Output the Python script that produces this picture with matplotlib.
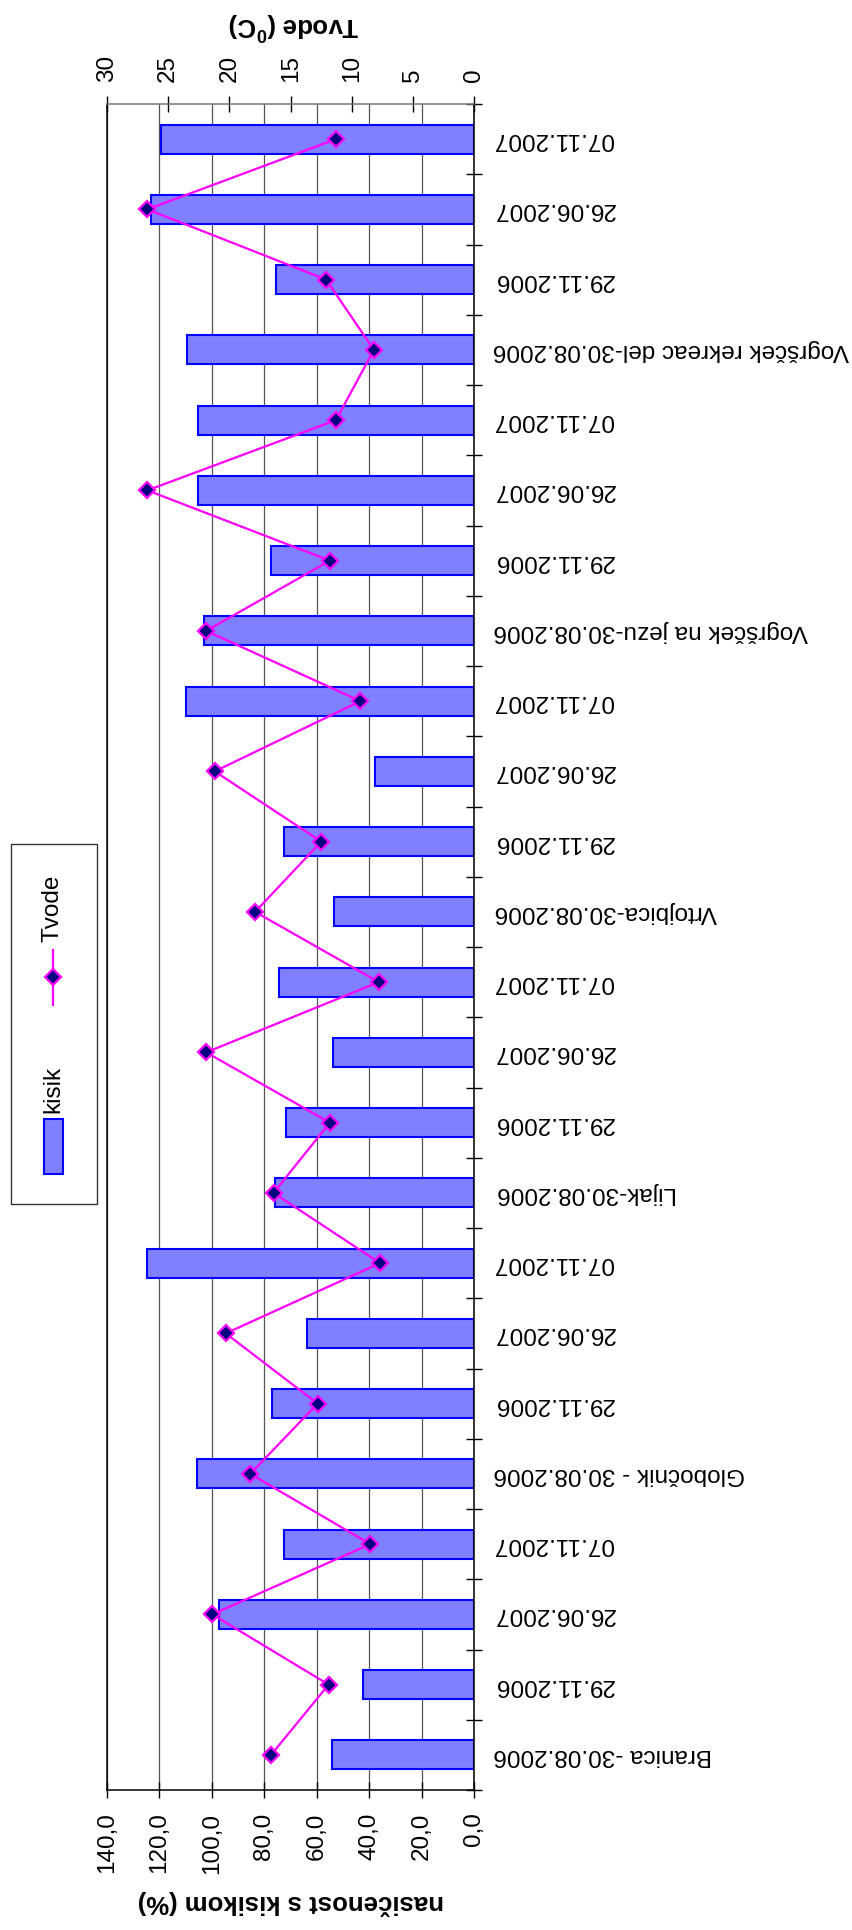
import matplotlib
matplotlib.use('Agg')
import matplotlib.pyplot as plt
import numpy as np
from matplotlib.patches import Rectangle
from matplotlib.lines import Line2D

plt.rcParams['font.family'] = ['Liberation Sans', 'DejaVu Sans']
plt.rcParams['mathtext.default'] = 'regular'

# merilna mesta in datumi vzorčenja (od spodaj navzgor)
kategorije = [
    'Branica -30.08.2006', '29.11.2006', '26.06.2007', '07.11.2007',
    'Globočnik - 30.08.2006', '29.11.2006', '26.06.2007', '07.11.2007',
    'Lijak-30.08.2006', '29.11.2006', '26.06.2007', '07.11.2007',
    'Vrtojbica-30.08.2006', '29.11.2006', '26.06.2007', '07.11.2007',
    'Vogršček na jezu-30.08.2006', '29.11.2006', '26.06.2007', '07.11.2007',
    'Vogršček rekreac del-30.08.2006', '29.11.2006', '26.06.2007', '07.11.2007',
]
kisik = [54.2, 42.6, 97.5, 72.7, 105.6, 77.2, 63.8, 124.6,
         75.9, 71.8, 53.8, 74.5, 53.3, 72.7, 37.8, 109.8,
         103.2, 77.3, 105.5, 105.3, 109.4, 75.5, 123.2, 119.6]
tvode = [16.6, 11.9, 21.4, 8.5, 18.3, 12.8, 20.3, 7.7,
         16.4, 11.8, 21.9, 7.8, 17.9, 12.5, 21.2, 9.3,
         21.9, 11.8, 26.7, 11.3, 8.2, 12.1, 26.7, 11.3]
kisik_ticks = [0, 20, 40, 60, 80, 100, 120, 140]
tvode_ticks = [0, 5, 10, 15, 20, 25, 30]

W, H = 853, 1930


def fx(px):
    return px / W


def fy(py):
    return 1 - py / H


fig = plt.figure(figsize=(W / 100, H / 100), dpi=100)
ax = fig.add_axes([fx(107), fy(1790), fx(474.3) - fx(107), fy(104) - fy(1790)])

y = np.arange(len(kategorije))
ax.barh(y, kisik, height=0.41, color='#8080FF', edgecolor='#0000FF',
        linewidth=1.5, zorder=2)
ax.set_xlim(140, 0)
ax.set_ylim(-0.5, len(kategorije) - 0.5)

ax.set_xticks(kisik_ticks)
ax.set_xticklabels([f'{v:.1f}'.replace('.', ',') for v in kisik_ticks],
                   rotation=90, fontsize=17.5)
ax.tick_params(axis='x', direction='inout', length=11.5, width=1, pad=10.5)
ax.grid(axis='x', color='#555555', linewidth=0.9)
ax.set_axisbelow(True)

# kategorije na desni strani, črtice med stolpci
ax.yaxis.tick_right()
ax.set_yticks(np.arange(-0.5, len(kategorije)))
ax.set_yticklabels([])
ax.set_yticks(y, minor=True)
ax.set_yticklabels(kategorije, minor=True, rotation=180, fontsize=17.5)
for lbl in ax.get_yticklabels(minor=True):
    lbl.set_va('center')
ax.tick_params(axis='y', which='major', direction='inout', length=11.5,
               width=1, left=False, right=True)
ax.tick_params(axis='y', which='minor', length=0, pad=13.7,
               left=False, right=True)
ax.spines['top'].set_visible(False)
for s in ['left', 'right', 'bottom']:
    ax.spines[s].set_linewidth(1.1)

# temperatura vode na zgornji osi
ax2 = ax.twiny()
ax2.plot(tvode, y, color='#FF00FF', linewidth=1.6, marker='D', markersize=8.5,
         markerfacecolor='#000080', markeredgecolor='#FF00FF',
         markeredgewidth=1.6, zorder=3)
ax2.set_xlim(30, 0)
ax2.set_xticks(tvode_ticks)
ax2.set_xticklabels([str(v) for v in tvode_ticks], rotation=90, fontsize=17.5)
ax2.tick_params(axis='x', direction='inout', length=11.5, width=1, pad=10)
for s in ['left', 'right', 'bottom']:
    ax2.spines[s].set_visible(False)
ax2.spines['top'].set_color('#777777')
ax2.spines['top'].set_linewidth(1.1)

fig.text(fx(290.5), fy(1903), 'nasičenost s kisikom (%)', rotation=180,
         ha='center', va='center', fontsize=18.5, fontweight='bold')
fig.text(fx(294), fy(25), r'Tvode ($^0$C)', rotation=180,
         ha='center', va='center', fontsize=18.5, fontweight='bold')

# legenda
fig.add_artist(Rectangle((fx(11), fy(1204)), fx(97) - fx(11), fy(844) - fy(1204),
                         transform=fig.transFigure, facecolor='white',
                         edgecolor='#333333', linewidth=1.0))
fig.add_artist(Rectangle((fx(44), fy(1174)), fx(63) - fx(44), fy(1119) - fy(1174),
                         transform=fig.transFigure, facecolor='#8080FF',
                         edgecolor='#0000FF', linewidth=1.5))
fig.text(fx(53), fy(1089), 'kisik', rotation=90, ha='center', va='center',
         fontsize=17.5)
fig.add_artist(Line2D([fx(53), fx(53)], [fy(1005), fy(950)],
                      transform=fig.transFigure, color='#FF00FF', linewidth=1.6))
fig.add_artist(Line2D([fx(53)], [fy(977)], transform=fig.transFigure,
                      linestyle='none', marker='D', markersize=8.5,
                      markerfacecolor='#000080', markeredgecolor='#FF00FF',
                      markeredgewidth=1.6))
fig.text(fx(53), fy(908), 'Tvode', rotation=90, ha='center', va='center',
         fontsize=17.5)

fig.savefig('out.png', dpi=100)
